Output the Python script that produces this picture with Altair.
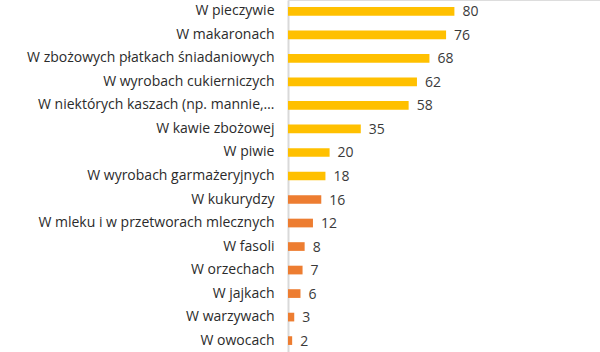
import altair as alt
import pandas as pd

categories = [
    "W pieczywie",
    "W makaronach",
    "W zbożowych płatkach śniadaniowych",
    "W wyrobach cukierniczych",
    "W niektórych kaszach (np. mannie,…",
    "W kawie zbożowej",
    "W piwie",
    "W wyrobach garmażeryjnych",
    "W kukurydzy",
    "W mleku i w przetworach mlecznych",
    "W fasoli",
    "W orzechach",
    "W jajkach",
    "W warzywach",
    "W owocach",
]
values = [80, 76, 68, 62, 58, 35, 20, 18, 16, 12, 8, 7, 6, 3, 2]
groups = ["gluten"] * 8 + ["other"] * 7

df = pd.DataFrame({"cat": categories, "val": values, "grp": groups})

FONT = "Open Sans"

base = alt.Chart(df).encode(
    y=alt.Y(
        "cat:N",
        sort=categories,
        scale=alt.Scale(paddingInner=0.63, paddingOuter=0.3),
        axis=alt.Axis(
            title=None,
            ticks=False,
            labelPadding=14,
            labelFont=FONT,
            labelFontSize=14,
            labelColor="#2b2b2b",
            labelLimit=400,
            domainColor="#D9D9D9",
            domainWidth=2,
        ),
    ),
)

bars = base.mark_bar().encode(
    x=alt.X("val:Q", scale=alt.Scale(domain=[0, 150], nice=False), axis=None),
    color=alt.Color(
        "grp:N",
        scale=alt.Scale(domain=["gluten", "other"], range=["#FFC000", "#ED7D31"]),
        legend=None,
    ),
)

text = base.mark_text(
    align="left", baseline="middle", dx=8, dy=1, font=FONT, fontSize=14, color="#3a3a3a"
).encode(x="val:Q", text="val:Q")

chart = (
    (bars + text)
    .properties(
        width=312,
        height=352,
        padding={"left": 288, "top": 0, "right": 0, "bottom": 0},
        autosize=alt.AutoSizeParams(type="none"),
    )
    .configure_view(stroke=None)
    .configure(background="white")
)

chart.save("out.html", embed_options={"renderer": "svg", "actions": False})
